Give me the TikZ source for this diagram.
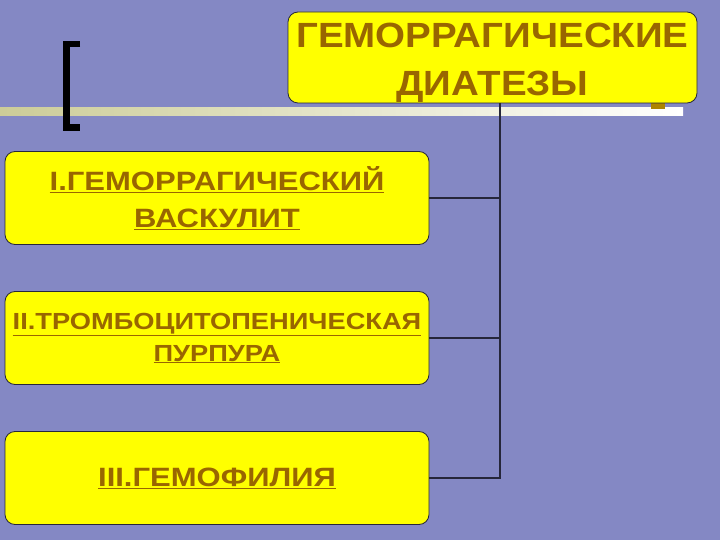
\documentclass[tikz,border=0pt]{standalone}
\usepackage{fontspec}
\setmainfont[FakeStretch=1.17]{Liberation Sans}
\newfontfamily\headfont[FakeStretch=1.1]{Liberation Sans}
\usepackage{tikz}
\usetikzlibrary{calc}
\definecolor{slidebg}{HTML}{8488C4}
\definecolor{boxfill}{HTML}{FFFF00}
\definecolor{boxtext}{HTML}{996600}
\definecolor{linkline}{HTML}{26263A}
\definecolor{barkhaki}{HTML}{CCCC98}
\tikzset{
  headbox/.style={rectangle, rounded corners=10pt, draw=linkline, fill=boxfill,
                  line width=0.8pt, minimum width=409pt, minimum height=91pt,
                  text width=405pt, align=center, inner sep=0pt, text=boxtext,
                  font=\headfont\bfseries\fontsize{35}{48}\selectfont},
  kindbox/.style={rectangle, rounded corners=10pt, draw=linkline, fill=boxfill,
                  line width=0.8pt, minimum width=424pt, minimum height=93pt,
                  text width=420pt, align=center, inner sep=0pt, text=boxtext,
                  font=\bfseries\fontsize{26.5}{37}\selectfont},
  link/.style={line width=1.5pt, linkline},
}

\begin{document}
\begin{tikzpicture}[x=1pt, y=-1pt]
  % slide background
  \fill[slidebg] (0,0) rectangle (720,540);
  \useasboundingbox (0,0) rectangle (720,540);
  \shade[left color=barkhaki, right color=white] (0,108) rectangle (683,116);
  \fill[boxtext!80!yellow] (651,103) rectangle (665,109);
  \draw[line width=6.5pt, miter limit=10] (80,44) -- (66.5,44) -- (66.5,127.5) -- (80,127.5);
  % boxes
  \node[headbox] (top) at (492.5,57.5) {\rule{0pt}{35pt}ГЕМОРРАГИЧЕСКИЕ\\ДИАТЕЗЫ};
  \node[kindbox] (vasc) at (217,198) {\underline{I.ГЕМОРРАГИЧЕСКИЙ}\\\underline{ВАСКУЛИТ}};
  \node[kindbox, font=\bfseries\fontsize{23.3}{32}\selectfont] (purp) at (217,338)
    {\underline{II.ТРОМБОЦИТОПЕНИЧЕСКАЯ}\\\underline{ПУРПУРА}};
  \node[kindbox] (hemo) at (217,478) {\underline{III.ГЕМОФИЛИЯ}};
  % connectors
  \coordinate (spine) at (500,478);
  \draw[link] (top.south -| spine) -- (spine) -- (hemo.east);
  \draw[link] (vasc.east) -- (vasc.east -| spine);
  \draw[link] (purp.east) -- (purp.east -| spine);
\end{tikzpicture}
\end{document}
